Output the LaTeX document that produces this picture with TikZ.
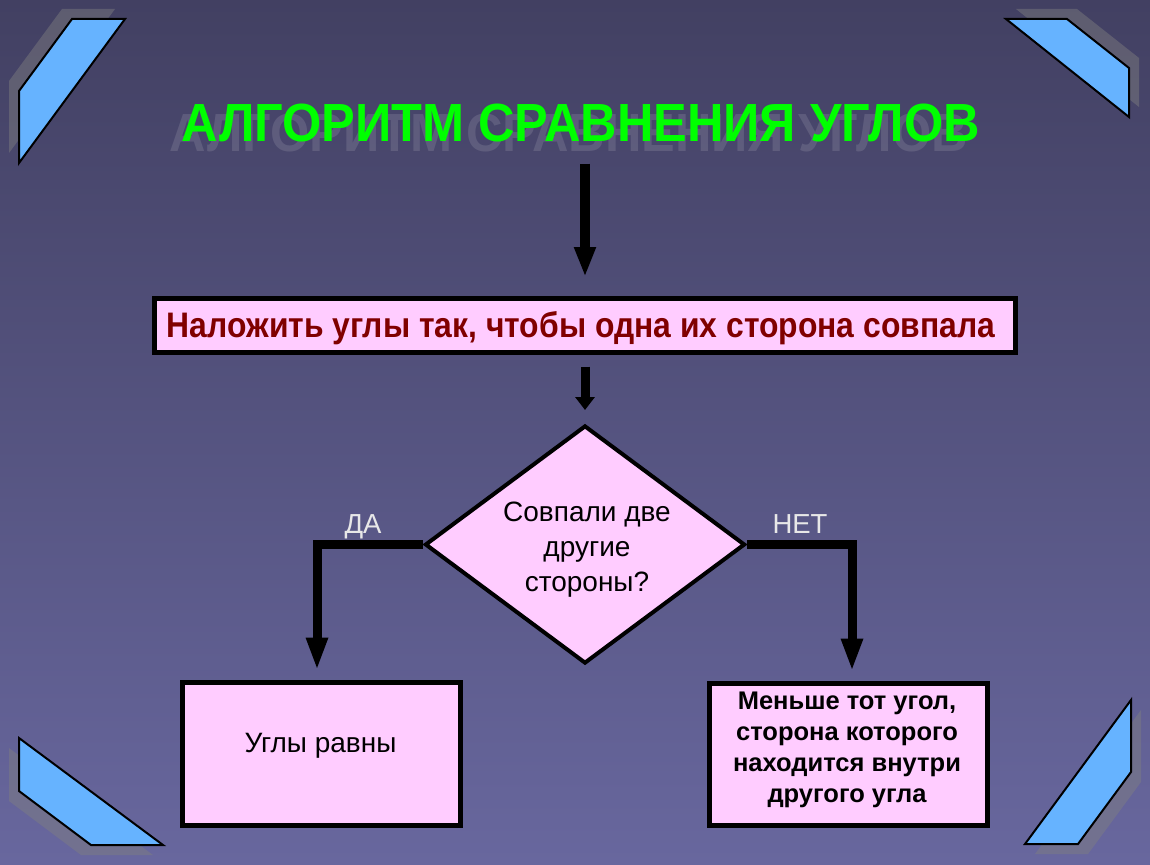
\documentclass[tikz,border=0pt]{standalone}
\usepackage{fontspec}
\setmainfont{Liberation Sans}
\usepackage{graphicx}
\usetikzlibrary{positioning,shapes.geometric,arrows.meta}

\definecolor{bgtop}{HTML}{424062}
\definecolor{bgbot}{HTML}{68679E}
\definecolor{boxpink}{HTML}{FFCCFF}
\definecolor{cornerblue}{HTML}{66B3FF}
\definecolor{titlegreen}{HTML}{00FF00}
\definecolor{textred}{HTML}{800000}
\definecolor{labelgrey}{HTML}{E8E8E8}

\tikzset{
  stepbox/.style={draw=black, line width=5pt, fill=boxpink, inner sep=0pt, minimum width=278pt, minimum height=143pt},
  decision/.style={diamond, draw=black, line width=4pt, fill=boxpink, inner sep=0pt, minimum width=320pt, minimum height=238pt},
  plain/.style={font=\fontsize{28pt}{35pt}\selectfont, text=black, inner sep=0pt},
  heavy/.style={font=\bfseries\fontsize{25.5pt}{31pt}\selectfont, text=black, inner sep=0pt},
  branchlabel/.style={font=\fontsize{27.5pt}{31pt}\selectfont, text=labelgrey, inner sep=0pt, anchor=base},
  corner/.style={draw=black, line width=2pt, fill=cornerblue, line join=miter},
  cornershadow/.style={fill=gray, opacity=0.45},
  bigarrow/.style={line width=10pt, -{Triangle[length=30pt, width=20pt]}},
  midarrow/.style={line width=9pt, -{Triangle[length=13pt, width=19pt]}},
  branch/.style={line width=9pt, -{Triangle[length=33pt, width=20pt]}}
}

\begin{document}
\begin{tikzpicture}[x=1pt, y=-1pt]
  \shade[top color=bgtop, bottom color=bgbot] (0,0) rectangle (1150,864);
  \useasboundingbox (0,0) rectangle (1150,864);

  % corner ornaments
  \fill[cornershadow] (62,9) -- (115,9) -- (9,153) -- (9,81) -- cycle;
  \fill[cornershadow] (1016,9) -- (1077,9) -- (1139,58) -- (1139,107) -- cycle;
  \fill[cornershadow] (9,748) -- (9,801) -- (81,855) -- (153,855) -- cycle;
  \fill[cornershadow] (1141,710) -- (1141,782) -- (1088,854) -- (1035,854) -- cycle;
  \filldraw[corner] (72,19) -- (125,19) -- (19,163) -- (19,91) -- cycle;
  \filldraw[corner] (1006,19) -- (1067,19) -- (1129,68) -- (1129,117) -- cycle;
  \filldraw[corner] (19,738) -- (19,791) -- (91,845) -- (163,845) -- cycle;
  \filldraw[corner] (1131,700) -- (1131,772) -- (1078,844) -- (1025,844) -- cycle;

  % title
  \node[inner sep=0pt, text=white, opacity=0.12] (titleshadow) at (569,133.5)
    {\resizebox{798pt}{37.5pt}{\bfseries АЛГОРИТМ СРАВНЕНИЯ УГЛОВ}};
  \node[inner sep=0pt, text=titlegreen] (title) at (581,123.5)
    {\resizebox{798pt}{37.5pt}{\bfseries АЛГОРИТМ СРАВНЕНИЯ УГЛОВ}};

  % boxes
  \node[stepbox, minimum width=861pt, minimum height=54pt] (overlay) at (585,325.5) {};
  \node[inner sep=0pt, text=textred, anchor=base] (overlaytext) at (581,337)
    {\resizebox{828pt}{26pt}{\bfseries Наложить углы так, чтобы одна их сторона совпала}};
  \node[decision] (test) at (585,544.5) {};
  \node[plain, align=center] (testtext) at (587,550) {Совпали две\\другие\\стороны?};
  \node[stepbox] (yesbox) at (321.5,754) {};
  \node[plain] (yestext) at (320.5,746) {Углы равны};
  \node[stepbox, minimum height=142pt] (nobox) at (848.5,754.5) {};
  \node[heavy, align=center] (notext) at (847,750)
    {Меньше тот угол,\\сторона которого\\находится внутри\\другого угла};

  % labels
  \node[branchlabel] (yes) at (363,533) {ДА};
  \node[branchlabel] (no) at (800,533) {НЕТ};

  % arrows
  \draw[bigarrow, shorten <=21pt, shorten >=19pt] (title.south -| overlay.north) -- (overlay.north);
  \draw[midarrow, shorten <=11.5pt, shorten >=13.5pt] (overlay.south) -- (test.north);
  \draw[branch] (test.west) -| ([xshift=-4.5pt, yshift=9.5pt]yesbox.north);
  \draw[branch] (test.east) -| ([xshift=3.5pt, yshift=9.5pt]nobox.north);
\end{tikzpicture}
\end{document}
